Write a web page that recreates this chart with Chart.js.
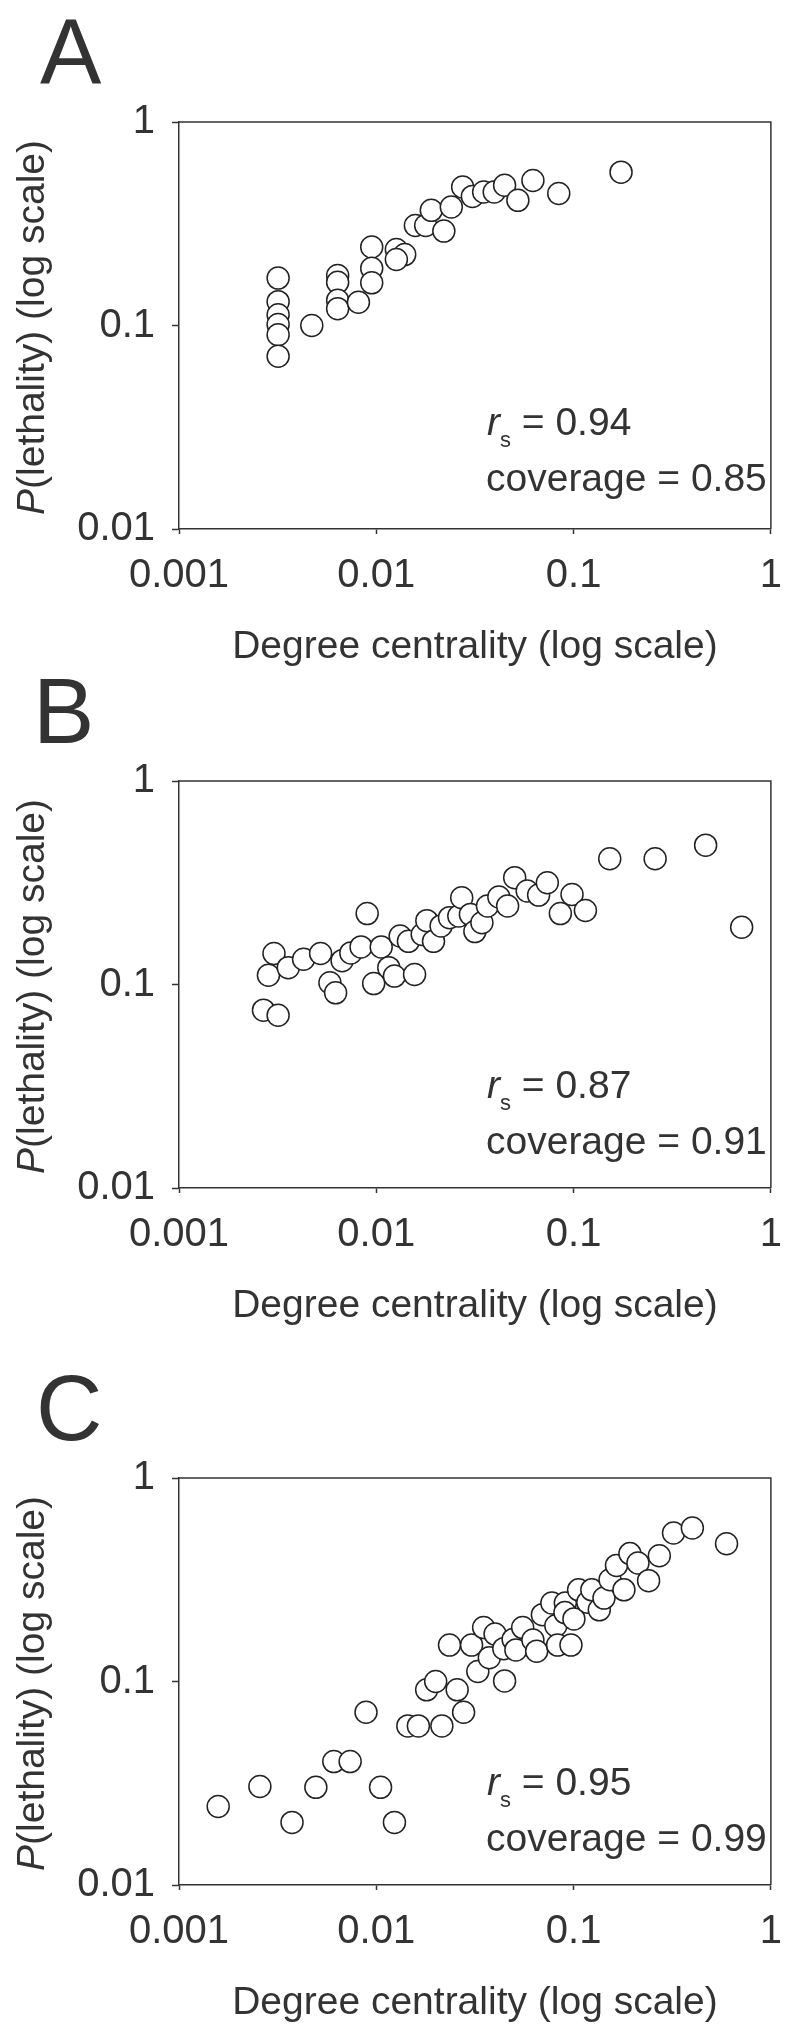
<!DOCTYPE html>
<html lang="en">
<head>
    <meta charset="UTF-8">
    <title>P(lethality) vs degree centrality</title>
    <script src="https://cdn.jsdelivr.net/npm/chart.js"></script>
    <style>
        html, body { margin: 0; padding: 0; background: #fff; }
        body { position: relative; width: 800px; height: 2027px; overflow: hidden; }
        .panel { position: absolute; left: 0; width: 800px; }
        canvas { display: block; }
    </style>
</head>
<body>

    <!-- one chart per panel, canvases overlap a little so descenders are not cut -->
    <div class="panel" style="top:0px"><canvas id="chartA" width="800" height="700"></canvas></div>
    <div class="panel" style="top:659px"><canvas id="chartB" width="800" height="700"></canvas></div>
    <div class="panel" style="top:1356px"><canvas id="chartC" width="800" height="671"></canvas></div>

    <script>
        // ---- data ----
        const xTicks = [0.001, 0.01, 0.1, 1];
        const yTicks = [0.01, 0.1, 1];
        const panelLetters = ['A', 'B', 'C'];
        const rsValues = ['0.94', '0.87', '0.95'];
        const coverageValues = ['0.85', '0.91', '0.99'];
        const xTitle = 'Degree centrality (log scale)';

        const aX = [0.00318, 0.00318, 0.00318, 0.00318, 0.00318, 0.00318, 0.00471, 0.00637, 0.00637, 0.00637, 0.00637,
            0.00812, 0.00948, 0.00948, 0.00948, 0.01264, 0.01393, 0.01264, 0.01578, 0.0178, 0.019, 0.022, 0.024,
            0.0274, 0.0307, 0.035, 0.0396, 0.0447, 0.0522, 0.0622, 0.0841, 0.174];
        const aY = [0.171, 0.131, 0.113, 0.101, 0.090, 0.0706, 0.100, 0.176, 0.163, 0.133, 0.121,
            0.130, 0.243, 0.191, 0.162, 0.236, 0.223, 0.211, 0.310, 0.310, 0.368, 0.291, 0.382,
            0.479, 0.431, 0.453, 0.453, 0.489, 0.412, 0.516, 0.445, 0.567];

        const bX = [0.00268, 0.00318, 0.00284, 0.00303, 0.00358, 0.00428, 0.00522, 0.00582, 0.00622, 0.00671, 0.00743,
            0.00837, 0.00899, 0.0097, 0.01059, 0.01157, 0.01236, 0.01563, 0.01321, 0.01455, 0.01709, 0.01804,
            0.0195, 0.0213, 0.0235, 0.0262, 0.0271, 0.03, 0.0316, 0.0343, 0.0366, 0.0418, 0.0463, 0.0503,
            0.0582, 0.0665, 0.0736, 0.0857, 0.0982, 0.1148, 0.1525, 0.259, 0.467, 0.711];
        const bY = [0.0748, 0.0706, 0.111, 0.142, 0.121, 0.133, 0.142, 0.102, 0.091, 0.131, 0.143,
            0.153, 0.223, 0.101, 0.153, 0.121, 0.110, 0.112, 0.173, 0.163, 0.176, 0.206,
            0.163, 0.194, 0.213, 0.217, 0.267, 0.221, 0.182, 0.201, 0.243, 0.269, 0.243, 0.335,
            0.288, 0.275, 0.316, 0.223, 0.277, 0.231, 0.415, 0.415, 0.484, 0.191];

        const cX = [0.00158, 0.00257, 0.00374, 0.00494, 0.00609, 0.00737, 0.00887, 0.01051, 0.01236, 0.01445,
            0.01634, 0.0180, 0.0200, 0.0215, 0.0235, 0.0257, 0.0277, 0.0304, 0.0327, 0.0350, 0.0374, 0.0400,
            0.0447, 0.0443, 0.0494, 0.0510, 0.0552, 0.0622, 0.0650, 0.0695, 0.0776, 0.0813, 0.0830, 0.0908,
            0.0904, 0.0970, 0.1004, 0.106, 0.118, 0.1237, 0.135, 0.1426, 0.153, 0.165, 0.180, 0.193, 0.212,
            0.240, 0.272, 0.321, 0.400, 0.596];
        const cY = [0.0243, 0.0305, 0.0203, 0.0302, 0.0404, 0.0404, 0.0706, 0.0302, 0.0203, 0.0605,
            0.0605, 0.0910, 0.100, 0.0605, 0.151, 0.0910, 0.0706, 0.151, 0.112, 0.184, 0.131, 0.171,
            0.1007, 0.145, 0.161, 0.143, 0.184, 0.160, 0.141, 0.213, 0.243, 0.188, 0.151, 0.243,
            0.218, 0.151, 0.203, 0.282, 0.245, 0.282, 0.225, 0.257, 0.316, 0.372, 0.282, 0.425, 0.382,
            0.313, 0.415, 0.537, 0.568, 0.475];

        const seriesX = [aX, bX, cX];
        const seriesY = [aY, bY, cY];

        // ---- look ----
        const FONT = "'Liberation Sans', Arial, Helvetica, sans-serif";
        const INK = '#333333';
        const PLOT_TOP = 122;
        const PLOT_BOTTOM = 529;
        const PLOT_LEFT = 179;
        const annoY = [[313, 369], [317, 373], [317, 373]];

        // frame, panel letter, axis titles and the r_s / coverage note
        const panelText = {
            id: 'panelText',
            afterDraw(chart, args, opts) {
                const ctx = chart.ctx;
                const a = chart.chartArea;
                ctx.save();

                // top and right sides of the box
                ctx.strokeStyle = INK;
                ctx.lineWidth = 1.5;
                ctx.beginPath();
                ctx.moveTo(a.left, a.top);
                ctx.lineTo(a.right, a.top);
                ctx.lineTo(a.right, a.bottom);
                ctx.stroke();

                ctx.fillStyle = INK;
                ctx.textBaseline = 'alphabetic';
                ctx.textAlign = 'left';

                // panel letter
                ctx.font = '92px ' + FONT;
                let m = ctx.measureText(opts.letter);
                ctx.fillText(opts.letter, 40 + m.actualBoundingBoxLeft, a.top - 38);

                // x title
                ctx.font = '39px ' + FONT;
                ctx.textAlign = 'center';
                ctx.fillText(xTitle, (a.left + a.right) / 2, a.bottom + 129);

                // y title, rotated, italic P
                ctx.save();
                ctx.translate(44, (a.top + a.bottom) / 2 + 2);
                ctx.rotate(-Math.PI / 2);
                ctx.textAlign = 'left';
                ctx.font = 'italic 39px ' + FONT;
                const wP = ctx.measureText('P').width;
                ctx.font = '39px ' + FONT;
                const rest = '(lethality) (log scale)';
                const wRest = ctx.measureText(rest).width;
                let x0 = -(wP + wRest) / 2;
                ctx.font = 'italic 39px ' + FONT;
                ctx.fillText('P', x0, 0);
                ctx.font = '39px ' + FONT;
                ctx.fillText(rest, x0 + wP, 0);
                ctx.restore();

                // annotation
                const ax = 487;
                const y1 = a.top + opts.annoY[0];
                const y2 = a.top + opts.annoY[1];
                ctx.textAlign = 'left';
                ctx.font = 'italic 39px ' + FONT;
                m = ctx.measureText('r');
                ctx.fillText('r', ax + m.actualBoundingBoxLeft, y1);
                let cx = ax + m.actualBoundingBoxLeft + m.width;
                ctx.font = '22px ' + FONT;
                ctx.fillText('s', cx, y1 + 12);
                cx += ctx.measureText('s').width;
                ctx.font = '39px ' + FONT;
                ctx.fillText(' = ' + opts.rs, cx, y1);
                m = ctx.measureText('c');
                ctx.fillText('coverage = ' + opts.cov, ax + m.actualBoundingBoxLeft, y2);

                ctx.restore();
            }
        };

        function makeChart(id, i) {
            const points = seriesX[i].map((x, k) => ({ x: x, y: seriesY[i][k] }));
            return new Chart(document.getElementById(id), {
                type: 'scatter',
                data: {
                    datasets: [{
                        data: points,
                        pointRadius: 11,
                        pointHoverRadius: 11,
                        pointBackgroundColor: '#ffffff',
                        pointBorderColor: '#222222',
                        pointBorderWidth: 1.5
                    }]
                },
                options: {
                    responsive: false,
                    animation: false,
                    events: [],
                    layout: { padding: { top: PLOT_TOP, right: 12, bottom: 0, left: 0 } },
                    plugins: {
                        legend: { display: false },
                        tooltip: { enabled: false },
                        panelText: {
                            letter: panelLetters[i],
                            rs: rsValues[i],
                            cov: coverageValues[i],
                            annoY: annoY[i]
                        }
                    },
                    scales: {
                        x: {
                            type: 'logarithmic',
                            min: 0.001,
                            max: 1,
                            afterBuildTicks: s => { s.ticks = xTicks.map(v => ({ value: v })); },
                            afterFit: s => { s.height = s.chart.height - PLOT_BOTTOM; },
                            ticks: {
                                callback: v => String(v),
                                color: INK,
                                font: { family: FONT, size: 40 },
                                padding: 18,
                                maxRotation: 0,
                                autoSkip: false
                            },
                            grid: { drawOnChartArea: false, drawTicks: true, tickLength: 5, tickWidth: 1.5, tickColor: INK },
                            border: { display: true, color: INK, width: 1.5 }
                        },
                        y: {
                            type: 'logarithmic',
                            min: 0.01,
                            max: 1,
                            afterBuildTicks: s => { s.ticks = yTicks.map(v => ({ value: v })); },
                            afterFit: s => { s.width = PLOT_LEFT; },
                            ticks: {
                                callback: v => String(v),
                                color: INK,
                                font: { family: FONT, size: 40 },
                                padding: 17,
                                autoSkip: false
                            },
                            grid: { drawOnChartArea: false, drawTicks: true, tickLength: 7, tickWidth: 1.5, tickColor: INK },
                            border: { display: true, color: INK, width: 1.5 }
                        }
                    }
                },
                plugins: [panelText]
            });
        }

        makeChart('chartA', 0);
        makeChart('chartB', 1);
        makeChart('chartC', 2);
    </script>

</body>
</html>
